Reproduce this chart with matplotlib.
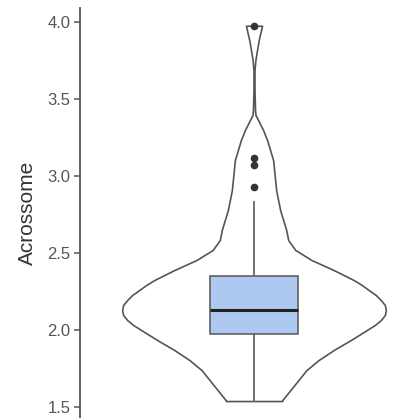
import matplotlib
matplotlib.use('Agg')
import matplotlib.pyplot as plt
import numpy as np

plt.rcParams['font.family'] = ['Liberation Sans', 'DejaVu Sans']

# violin outline: value and density (violin half width, any unit)
violin_y = [1.540, 1.545, 1.610, 1.675, 1.740, 1.805, 1.870, 1.935, 2.000, 2.033,
            2.065, 2.098, 2.130, 2.163, 2.195, 2.228, 2.260, 2.293, 2.325, 2.390,
            2.455, 2.520, 2.584, 2.649, 2.714, 2.778, 2.843, 2.908, 2.973, 3.037,
            3.103, 3.168, 3.233, 3.298, 3.363, 3.395, 3.429, 3.557, 3.687, 3.752,
            3.816, 3.881, 3.974]
violin_d = [28, 28, 36, 44, 52, 64, 79, 96, 112, 120,
            126, 130, 131, 130, 126, 121, 114, 107, 99, 79,
            57, 41, 34, 32, 29, 26, 24, 22, 21, 20,
            19, 16, 13, 9, 4, 1.5, 1, 0.5, 0.5, 1.4,
            3, 4.7, 8]

# box plot summary
box_q1 = 1.972
box_med = 2.130
box_q3 = 2.353
whisker_lo = 1.540
whisker_hi = 2.833
outliers = [2.928, 3.069, 3.118, 3.974]

ylabel = 'Acrossome'
yticks = [1.5, 2.0, 2.5, 3.0, 3.5, 4.0]

fig = plt.figure(figsize=(4.2, 4.18), dpi=100)
ax = fig.add_axes([80 / 420, 0.0, 340 / 420, 1 - 8 / 418])

# violin, scaled so the widest point is 0.45 either side
half = 0.45
vy = np.array(violin_y)
vw = np.array(violin_d) / max(violin_d) * half
ax.fill_betweenx(vy, 1 - vw, 1 + vw, facecolor='white', edgecolor='#555555',
                 linewidth=1.2, zorder=1)

# box
stats = [dict(med=box_med, q1=box_q1, q3=box_q3, whislo=whisker_lo,
              whishi=whisker_hi, fliers=outliers)]
ax.bxp(stats, positions=[1], widths=0.30, patch_artist=True, showcaps=False,
       boxprops=dict(facecolor='#adc9f1', edgecolor='#555555', linewidth=1.1),
       medianprops=dict(color='#222222', linewidth=2.2),
       whiskerprops=dict(color='#666666', linewidth=1.3),
       flierprops=dict(marker='o', markerfacecolor='#333333', markeredgecolor='#333333',
                       markersize=4.5),
       zorder=2)

ax.set_xlim(1 - 174 / 293, 1 + 166 / 293)
ax.set_ylim(1.430, 4.089)
ax.set_yticks(yticks)
ax.set_yticklabels([f'{t:.1f}' for t in yticks])
ax.set_xticks([])

for s in ['top', 'right', 'bottom']:
    ax.spines[s].set_visible(False)
ax.spines['left'].set_color('#555555')
ax.spines['left'].set_linewidth(1.3)
ax.tick_params(axis='y', length=4, width=1.1, color='#555555', labelsize=12,
               labelcolor='#555555', pad=3)
ax.set_ylabel(ylabel, fontsize=15, color='#333333', labelpad=7)

fig.savefig('out.png', dpi=100)
